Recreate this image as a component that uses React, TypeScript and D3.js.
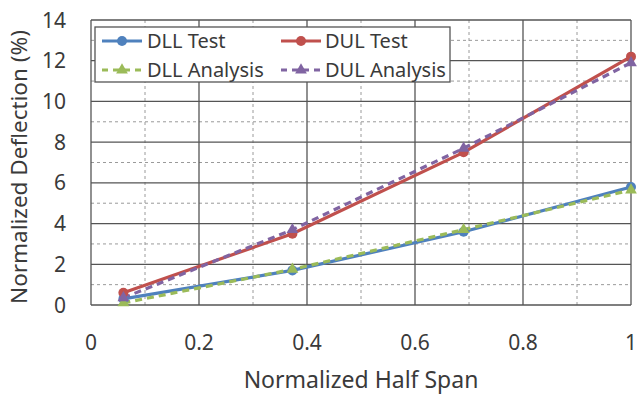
import React from "react";
import * as d3 from "d3";

const xPositions = [0.06, 0.373, 0.69, 1.0];
const dllTest = [0.3, 1.7, 3.6, 5.8];
const dulTest = [0.6, 3.5, 7.5, 12.2];
const dllAnalysis = [0.1, 1.75, 3.7, 5.65];
const dulAnalysis = [0.35, 3.7, 7.7, 11.9];
const xTicks = [0, 0.2, 0.4, 0.6, 0.8, 1];
const yTicks = [0, 2, 4, 6, 8, 10, 12, 14];

const W = 644, H = 397;
const left = 91, right = 631, top = 20, bottom = 305;
const FONT = "'Noto Sans', 'Open Sans', sans-serif";

const series = [
  { name: "DLL Test", values: dllTest, color: "#4f81bd", dash: null, marker: "circle" },
  { name: "DUL Test", values: dulTest, color: "#c0504d", dash: null, marker: "circle" },
  { name: "DLL Analysis", values: dllAnalysis, color: "#9bbb59", dash: "7,5", marker: "triangle" },
  { name: "DUL Analysis", values: dulAnalysis, color: "#8064a2", dash: "7,5", marker: "triangle" },
];

export default function App() {
  const x = d3.scaleLinear().domain([0, 1]).range([left, right]);
  const y = d3.scaleLinear().domain([0, 14]).range([bottom, top]);
  const line = d3.line<[number, number]>().x((d) => x(d[0])).y((d) => y(d[1]));
  const minorX = d3.range(0.1, 1, 0.2);
  const minorY = d3.range(1, 14, 2);
  const tri = d3.symbol().type(d3.symbolTriangle).size(60)() as string;

  const marker = (kind: string, cx: number, cy: number, color: string, key: string) =>
    kind === "circle" ? (
      <circle key={key} cx={cx} cy={cy} r={5} fill={color} />
    ) : (
      <path key={key} d={tri} transform={`translate(${cx},${cy})`} fill={color} />
    );

  const legendItems = [
    { s: series[0], lx: 102, ly: 41, tx: 147 },
    { s: series[1], lx: 281, ly: 41, tx: 325 },
    { s: series[2], lx: 102, ly: 70, tx: 147 },
    { s: series[3], lx: 281, ly: 70, tx: 325 },
  ];

  return (
    <svg width={W} height={H} style={{ position: "absolute", left: 0, top: 0, background: "#fff" }}>
      {minorX.map((v) => (
        <line key={"mx" + v} x1={x(v)} x2={x(v)} y1={top} y2={bottom} stroke="#9a9a9a" strokeDasharray="3,3" strokeWidth={1} />
      ))}
      {minorY.map((v) => (
        <line key={"my" + v} x1={left} x2={right} y1={y(v)} y2={y(v)} stroke="#9a9a9a" strokeDasharray="3,3" strokeWidth={1} />
      ))}
      {xTicks.map((v) => (
        <line key={"gx" + v} x1={x(v)} x2={x(v)} y1={top} y2={bottom} stroke="#555" strokeWidth={1.3} />
      ))}
      {yTicks.map((v) => (
        <line key={"gy" + v} x1={left} x2={right} y1={y(v)} y2={y(v)} stroke="#555" strokeWidth={1.3} />
      ))}
      {series.map((s) => (
        <path
          key={s.name}
          d={line(xPositions.map((xv, i) => [xv, s.values[i]]) as [number, number][]) || ""}
          fill="none"
          stroke={s.color}
          strokeWidth={3.2}
          strokeDasharray={s.dash || undefined}
        />
      ))}
      {series.map((s) =>
        xPositions.map((xv, i) => marker(s.marker, x(xv), y(s.values[i]), s.color, s.name + i))
      )}
      {xTicks.map((v) => (
        <text key={"tx" + v} x={x(v)} y={350} textAnchor="middle" fontSize={21} fill="#3a3a3a" fontFamily={FONT}>
          {d3.format("~g")(v)}
        </text>
      ))}
      {yTicks.map((v) => (
        <text key={"ty" + v} x={66} y={y(v) + 7.5} textAnchor="end" fontSize={21} fill="#3a3a3a" fontFamily={FONT}>
          {v}
        </text>
      ))}
      <text x={361} y={388} textAnchor="middle" fontSize={23} fill="#3a3a3a" fontFamily={FONT}>
        Normalized Half Span
      </text>
      <text transform={`translate(27,167) rotate(-90)`} textAnchor="middle" fontSize={22.5} fill="#3a3a3a" fontFamily={FONT}>
        Normalized Deflection (%)
      </text>
      <rect x={95} y={27} width={355} height={55} fill="#fff" stroke="#555" strokeWidth={1.3} />
      {legendItems.map(({ s, lx, ly, tx }) => (
        <g key={"lg" + s.name}>
          <line x1={lx} x2={lx + 40} y1={ly} y2={ly} stroke={s.color} strokeWidth={3} strokeDasharray={s.dash ? "6,5" : undefined} />
          {marker(s.marker, lx + 20, ly, s.color, "lm" + s.name)}
          <text x={tx} y={ly + 7} fontSize={20} fill="#3a3a3a" fontFamily={FONT}>
            {s.name}
          </text>
        </g>
      ))}
    </svg>
  );
}
